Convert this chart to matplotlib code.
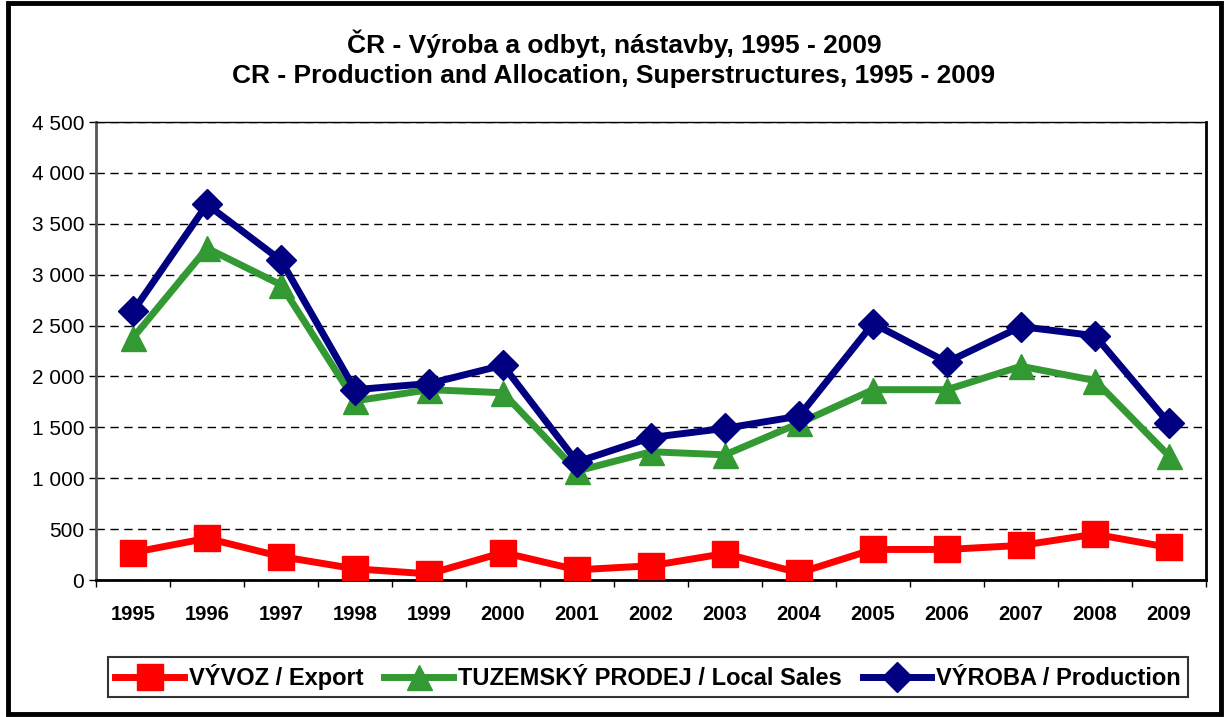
import numpy as np
import matplotlib
matplotlib.use("Agg")
from matplotlib import pyplot as plt
from matplotlib.patches import Rectangle
from matplotlib.ticker import FuncFormatter

years = ["1995", "1996", "1997", "1998", "1999", "2000", "2001", "2002",
         "2003", "2004", "2005", "2006", "2007", "2008", "2009"]
export = [270, 410, 230, 110, 60, 270, 100, 140, 260, 70, 300, 300, 340, 450, 320]
local_sales = [2380, 3260, 2900, 1760, 1870, 1840, 1070, 1260, 1230, 1540,
               1870, 1870, 2100, 1960, 1220]
production = [2640, 3690, 3140, 1870, 1930, 2110, 1160, 1400, 1490, 1610,
              2520, 2140, 2490, 2400, 1540]

plt.rcParams['font.family'] = ['Liberation Sans', 'DejaVu Sans']

fig = plt.figure(figsize=(12.28, 7.17), dpi=100)
ax = fig.add_axes([96/1228, 1 - 580/717, (1206-96)/1228, (580-122)/717])

x = np.arange(len(years))
ax.plot(x, export, color="#ff0000", lw=5, marker="s", ms=18.5,
        label="VÝVOZ / Export", zorder=3)
ax.plot(x, local_sales, color="#339933", lw=5, marker="^", ms=18,
        label="TUZEMSKÝ PRODEJ / Local Sales", zorder=3)
ax.plot(x, production, color="#000080", lw=5, marker="D", ms=15,
        label="VÝROBA / Production", zorder=4)

ax.set_xlim(-0.5, len(years) - 0.5)
ax.set_ylim(0, 4500)
ax.set_yticks(np.arange(0, 4501, 500))
ax.yaxis.set_major_formatter(FuncFormatter(lambda v, p: f"{int(v):,}".replace(",", " ")))
ax.tick_params(axis="y", labelsize=15, length=5, width=1, direction="out")

ax.set_xticks(np.arange(-0.5, len(years), 1))
ax.set_xticklabels([])
ax.tick_params(axis="x", which="major", length=5, width=1, direction="out")
ax.set_xticks(x, minor=True)
ax.set_xticklabels(years, minor=True, fontweight="bold", fontsize=14.5)
ax.tick_params(axis="x", which="minor", length=0, pad=18)

ax.yaxis.grid(True, linestyle=(0, (6, 4)), color="black", lw=1)
ax.set_axisbelow(True)
for s in ax.spines.values():
    s.set_color("black")
    s.set_linewidth(1)
ax.spines["bottom"].set_linewidth(2)
ax.spines["right"].set_linewidth(2)
ax.spines["left"].set_color("#555555")
ax.spines["left"].set_linewidth(2)

fig.text(0.5, 1 - 44/717, "ČR - Výroba a odbyt, nástavby, 1995 - 2009",
         ha="center", va="center", fontsize=19, fontweight="bold")
fig.text(0.5, 1 - 76/717, "CR - Production and Allocation, Superstructures, 1995 - 2009",
         ha="center", va="center", fontsize=19, fontweight="bold")

leg = fig.legend(loc="center", bbox_to_anchor=(648/1228, 1 - 677/717), ncol=3,
                 frameon=True, fancybox=False, handlelength=2.9,
                 columnspacing=0.9, handletextpad=0.2, borderpad=0.3,
                 prop={"weight": "bold", "size": 17})
leg.get_frame().set_edgecolor("black")
leg.get_frame().set_linewidth(1.5)

fig.patches.append(Rectangle((8/1228, 3/717), (1221-8)/1228, (714-3)/717,
                             transform=fig.transFigure, fill=False,
                             ec="black", lw=3.5))

fig.savefig("out.png", dpi=100)
